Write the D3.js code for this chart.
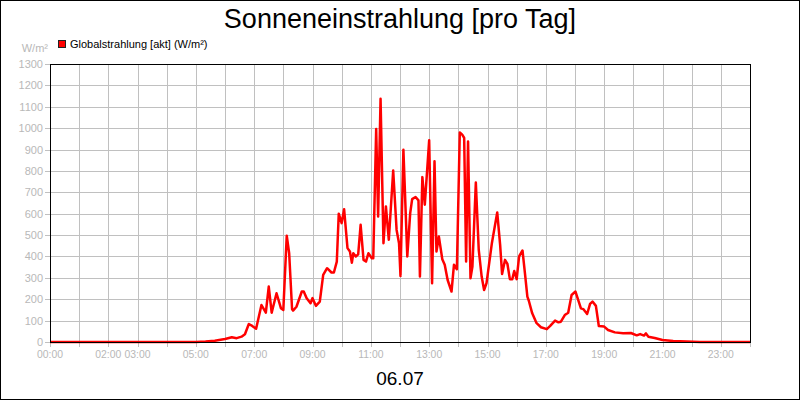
<!DOCTYPE html>
<html>
<head>
<meta charset="utf-8">
<script src="https://cdn.jsdelivr.net/npm/d3@7"></script>
<style>
  body { margin: 0; background: #fff; }
  svg { display: block; font-family: "Liberation Sans", Arial, sans-serif; }
</style>
</head>
<body>
<svg id="chart" width="800" height="400"></svg>
<script>
// --- Daten: Uhrzeit und Globalstrahlung (W/m²) ---
const zeiten = [
  "00:00","05:00","05:20","05:39","06:00","06:14","06:24","06:34","06:41","06:49","06:56",
  "07:04","07:15","07:24","07:30","07:36","07:46","07:55","08:00","08:07","08:12","08:18",
  "08:20","08:27","08:38","08:42","08:48","08:56","09:00","09:07","09:15","09:22","09:30",
  "09:39","09:44","09:50","09:54","10:00","10:05","10:12","10:17","10:21","10:24","10:29",
  "10:34","10:39","10:45","10:50","10:55","11:02","11:05","11:11","11:15","11:20","11:26",
  "11:31","11:37","11:46","11:53","11:58","12:01","12:07","12:15","12:21","12:25","12:32",
  "12:38","12:41","12:46","12:51","13:00","13:06","13:11","13:15","13:20","13:27","13:32",
  "13:38","13:46","13:51","13:57","14:03","14:08","14:12","14:16","14:20","14:25","14:29",
  "14:36","14:42","14:48","14:53","14:58","15:09","15:20","15:26","15:30","15:36","15:41",
  "15:46","15:51","15:55","16:00","16:05","16:12","16:17","16:22","16:25","16:32","16:41",
  "16:50","17:02","17:09","17:19","17:26","17:31","17:39","17:46","17:53","18:01","18:12",
  "18:17","18:25","18:31","18:36","18:43","18:49","19:00","19:08","19:22","19:39","19:55",
  "20:07","20:14","20:22","20:26","20:31","20:44","21:00","21:22","21:50","22:17","24:00"
];
const strahlung = [
  0,0,2,6,14,22,18,25,36,84,75,
  62,173,137,259,137,228,158,150,497,415,153,
  147,165,236,236,205,181,205,169,189,314,345,
  325,325,376,600,556,621,439,423,371,415,400,
  410,548,384,376,415,392,392,996,587,1137,462,
  634,478,802,524,462,309,899,400,603,668,678,
  662,306,771,642,943,275,845,423,493,387,361,
  290,236,361,340,980,970,954,376,938,298,353,
  746,431,306,243,275,462,606,454,318,384,365,
  294,294,332,294,400,428,322,212,193,134,88,
  69,60,75,100,92,95,126,137,220,236,158,
  154,131,178,189,169,75,72,56,45,41,42,
  31,37,30,40,25,19,9,5,2,0,0
];
const yTicks = d3.range(0, 1301, 100);
const xLabels = ["00:00","02:00","03:00","05:00","07:00","09:00","11:00","13:00","15:00","17:00","19:00","21:00","23:00"];

const toMin = s => { const p = s.split(":"); return +p[0] * 60 + +p[1]; };
const data = zeiten.map((t, i) => ({ t: toMin(t), v: strahlung[i] }));

const svg = d3.select("#chart");
const L = 50, R = 750, T = 64, B = 342;

const x = d3.scaleLinear().domain([0, 1440]).range([L, R]);
const y = d3.scaleLinear().domain([0, 1300]).range([B, T]);
const px = v => Math.round(v) + 0.5;

// Rahmen außen
svg.append("rect")
  .attr("x", 0.5).attr("y", 0.5).attr("width", 799).attr("height", 399)
  .attr("fill", "#fff").attr("stroke", "#000");

// Titel
svg.append("text")
  .attr("x", 400).attr("y", 28)
  .attr("text-anchor", "middle")
  .style("font-size", "27px")
  .text("Sonneneinstrahlung [pro Tag]");

// Legende
svg.append("rect")
  .attr("x", 58.5).attr("y", 40.5).attr("width", 7).attr("height", 7)
  .attr("fill", "#ff0000").attr("stroke", "#222");
svg.append("text")
  .attr("x", 70).attr("y", 47.5)
  .style("font-size", "11px")
  .text("Globalstrahlung [akt] (W/m²)");

// Einheit
svg.append("text")
  .attr("x", 48).attr("y", 52)
  .attr("text-anchor", "end")
  .style("font-size", "11px").style("fill", "#b8b8b8")
  .text("W/m²");

// Gitter
const grid = svg.append("g").attr("stroke", "#c0c0c0").attr("shape-rendering", "crispEdges");
grid.selectAll("line.h").data(yTicks).enter().append("line")
  .attr("x1", L - 5).attr("x2", R)
  .attr("y1", d => px(y(d))).attr("y2", d => px(y(d)));
grid.selectAll("line.v").data(d3.range(0, 25)).enter().append("line")
  .attr("x1", d => px(x(d * 60))).attr("x2", d => px(x(d * 60)))
  .attr("y1", T).attr("y2", B + 5);

// Y-Beschriftung
svg.append("g").selectAll("text").data(yTicks).enter().append("text")
  .attr("x", 43).attr("y", d => y(d) + 4)
  .attr("text-anchor", "end")
  .style("font-size", "11px").style("fill", "#b8b8b8")
  .text(d => d);

// X-Beschriftung
svg.append("g").selectAll("text").data(xLabels).enter().append("text")
  .attr("x", d => x(toMin(d)))
  .attr("y", 358)
  .attr("text-anchor", "middle")
  .style("font-size", "10.4px").style("fill", "#b8b8b8")
  .text(d => d);

// Linie
const line = d3.line().x(d => x(d.t)).y(d => y(d.v));
svg.append("path")
  .datum(data)
  .attr("d", line)
  .attr("fill", "none")
  .attr("stroke", "#ff0000")
  .attr("stroke-width", 2.5)
  .attr("stroke-linejoin", "round");

// Plotrahmen
svg.append("rect")
  .attr("x", L + 0.5).attr("y", T + 0.5).attr("width", R - L).attr("height", B - T)
  .attr("fill", "none").attr("stroke", "#000").attr("shape-rendering", "crispEdges");

// Datum
svg.append("text")
  .attr("x", 400).attr("y", 385)
  .attr("text-anchor", "middle")
  .style("font-size", "19px")
  .text("06.07");
</script>
</body>
</html>
